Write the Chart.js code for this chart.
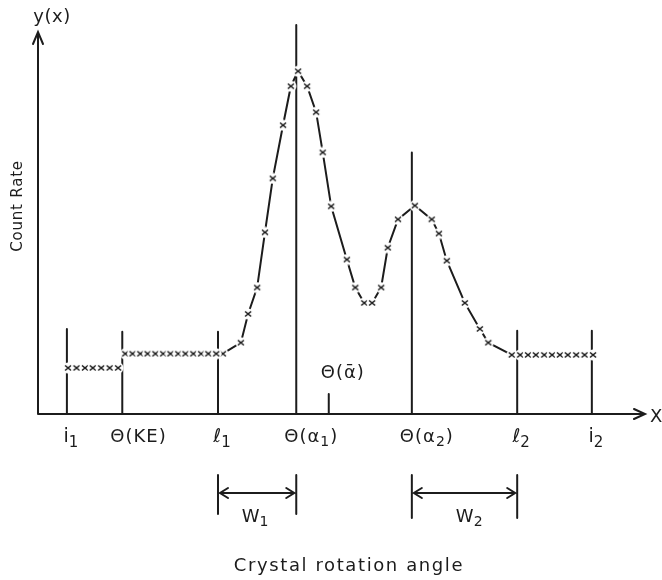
<!DOCTYPE html>
<html>
<head>
<meta charset="utf-8">
<script src="https://cdn.jsdelivr.net/npm/chart.js@4.4.1/dist/chart.umd.min.js"></script>
<style>
  html, body { margin: 0; padding: 0; background: #fff; }
  #wrap { width: 662px; height: 580px; position: relative; }
</style>
</head>
<body>
<div id="wrap"><canvas id="rocking"></canvas></div>
<script>
// marker positions along the rotation axis (arbitrary units 0..100)
const markerLabels = ['i₁', 'Θ(KE)', 'ℓ₁', 'Θ(α₁)', 'Θ(α₂)', 'ℓ₂', 'i₂'];
const markerX = [4.8, 14.0, 29.9, 42.9, 62.1, 79.6, 92.0];
const markerTop = [21.6, 20.9, 20.9, 98.7, 66.4, 21.1, 21.1];
const meanLabel = 'Θ(ᾱ)';
const meanX = 48.3;
const meanTop = 5.1;

// background counts left of the peaks (two plateaus)
const bgLowX = [5.0, 6.4, 7.8, 9.1, 10.5, 11.9, 13.3];
const bgLowLevel = 11.7;
const bgHighX = [14.5, 15.7, 17.0, 18.2, 19.5, 20.8, 22.0, 23.3, 24.5, 25.8, 27.1, 28.3, 29.6];
const bgHighLevel = 15.3;

// measured profile through both reflections
const peakX = [30.7, 33.7, 34.9, 36.4, 37.7, 39.0, 40.7, 42.0, 43.2, 44.7, 46.2, 47.3, 48.7,
               51.3, 52.7, 54.2, 55.5, 57.0, 58.1, 59.8, 62.6, 65.4, 66.6, 67.9, 70.9, 73.4, 74.8, 78.7];
const peakY = [15.3, 18.1, 25.4, 32.1, 46.1, 59.8, 73.3, 83.2, 87.0, 83.2, 76.6, 66.4, 52.7,
               39.2, 32.1, 28.2, 28.2, 32.1, 42.2, 49.4, 52.9, 49.4, 45.8, 38.9, 28.2, 21.6, 18.1, 15.0];

// background right of the peaks
const bgRightX = [80.1, 81.4, 82.7, 84.1, 85.4, 86.7, 88.0, 89.4, 90.8, 92.2];
const bgRightLevel = 15.0;

const ink = '#1c1c1c';
const fontName = "'DejaVu Sans', sans-serif";
const subDigits = { '₁': '1', '₂': '2' };

// little "x" with a white halo so the line breaks around each point
function makeCross() {
    const c = document.createElement('canvas');
    c.width = 12; c.height = 12;
    const g = c.getContext('2d');
    g.fillStyle = '#fff';
    g.beginPath(); g.arc(6, 6, 5.5, 0, Math.PI * 2); g.fill();
    g.strokeStyle = ink;
    g.lineWidth = 1.6;
    g.beginPath();
    g.moveTo(3, 3.5); g.lineTo(9, 8.5);
    g.moveTo(9, 3.5); g.lineTo(3, 8.5);
    g.stroke();
    return c;
}
const cross = makeCross();

function level(xs, y) {
    return xs.map(x => ({ x: x, y: y }));
}

// text with real (lowered, smaller) subscripts for ₁ ₂
function text(ctx, str, x, y, size, align, spacing) {
    ctx.save();
    ctx.textBaseline = 'middle';
    ctx.fillStyle = ink;
    ctx.letterSpacing = (spacing || 0) + 'px';
    const parts = [];
    let buf = '';
    for (const ch of str) {
        if (subDigits[ch]) {
            if (buf) parts.push({ s: buf, sub: false });
            parts.push({ s: subDigits[ch], sub: true });
            buf = '';
        } else buf += ch;
    }
    if (buf) parts.push({ s: buf, sub: false });
    const subSize = Math.round(size * 0.78);
    let w = 0;
    parts.forEach(p => {
        ctx.font = (p.sub ? subSize : size) + 'px ' + fontName;
        p.w = ctx.measureText(p.s).width;
        w += p.w;
    });
    let cx = align === 'left' ? x : align === 'right' ? x - w : x - w / 2;
    ctx.textAlign = 'left';
    parts.forEach(p => {
        ctx.font = (p.sub ? subSize : size) + 'px ' + fontName;
        ctx.fillText(p.s, cx, p.sub ? y + size * 0.32 : y);
        cx += p.w;
    });
    ctx.restore();
}

const sketch = {
    id: 'sketch',
    beforeDatasetsDraw(chart) {
        const { ctx, chartArea: area, scales: { x, y } } = chart;
        const y0 = y.getPixelForValue(0);
        const x0 = x.getPixelForValue(0);
        ctx.save();
        ctx.strokeStyle = ink;
        ctx.lineWidth = 2;
        ctx.lineCap = 'round';

        // axes with open arrow heads
        const yTip = area.top + 12;
        const xTip = area.right + 5;
        ctx.beginPath();
        ctx.moveTo(x0, y0); ctx.lineTo(x0, yTip);
        ctx.moveTo(x0 - 5, yTip + 12); ctx.lineTo(x0, yTip); ctx.lineTo(x0 + 5, yTip + 12);
        ctx.moveTo(x0, y0); ctx.lineTo(xTip, y0);
        ctx.moveTo(xTip - 11, y0 - 5); ctx.lineTo(xTip, y0); ctx.lineTo(xTip - 11, y0 + 5);
        ctx.stroke();

        // vertical markers
        ctx.lineWidth = 2;
        ctx.beginPath();
        markerX.forEach((mx, i) => {
            const px = x.getPixelForValue(mx);
            ctx.moveTo(px, y0);
            ctx.lineTo(px, y.getPixelForValue(markerTop[i]));
        });
        const mp = x.getPixelForValue(meanX);
        ctx.moveTo(mp, y0);
        ctx.lineTo(mp, y.getPixelForValue(meanTop));
        ctx.stroke();
        ctx.restore();
    },
    afterDraw(chart) {
        const { ctx, chartArea: area, scales: { x, y } } = chart;
        const y0 = y.getPixelForValue(0);
        const x0 = x.getPixelForValue(0);

        // marker labels under the axis
        markerLabels.forEach((lab, i) => {
            const px = x.getPixelForValue(markerX[i]);
            if (lab.startsWith('Θ')) text(ctx, lab, px - 12, y0 + 23, 18, 'left', 1);
            else text(ctx, lab, px + 4, y0 + 23, 19, 'center', 0);
        });
        text(ctx, meanLabel, x.getPixelForValue(meanX) - 8, y.getPixelForValue(meanTop) - 21, 18, 'left', 1);

        // axis titles
        text(ctx, 'y(x)', x0 + 14, area.top - 3, 18, 'center', 0.5);
        text(ctx, 'X', area.right + 10, y0 + 3, 18, 'left', 0);
        text(ctx, 'Crystal rotation angle', (area.left + area.right) / 2 + 10, y0 + 152, 18, 'center', 1.6);
        ctx.save();
        ctx.translate(18, y0 - 208);
        ctx.rotate(-Math.PI / 2);
        text(ctx, 'Count Rate', 0, 0, 15, 'center', 0.8);
        ctx.restore();

        // peak widths W1, W2
        const spans = [[2, 3, 'W₁'], [4, 5, 'W₂']];
        ctx.save();
        ctx.strokeStyle = ink;
        ctx.lineWidth = 2;
        ctx.lineCap = 'round';
        spans.forEach(([a, b, lab], k) => {
            const pa = x.getPixelForValue(markerX[a]);
            const pb = x.getPixelForValue(markerX[b]);
            const ay = y0 + 79;
            ctx.beginPath();
            ctx.moveTo(pa, y0 + 61); ctx.lineTo(pa, y0 + 100 + k * 4);
            ctx.moveTo(pb, y0 + 61); ctx.lineTo(pb, y0 + 100 + k * 4);
            ctx.moveTo(pa + 2, ay); ctx.lineTo(pb - 2, ay);
            ctx.moveTo(pa + 10, ay - 5); ctx.lineTo(pa + 2, ay); ctx.lineTo(pa + 10, ay + 5);
            ctx.moveTo(pb - 10, ay - 5); ctx.lineTo(pb - 2, ay); ctx.lineTo(pb - 10, ay + 5);
            ctx.stroke();
            const lx = k === 0 ? (pa + pb) / 2 - 2 : pb - 48;
            text(ctx, lab, lx, y0 + 103, 18, 'center', 0);
        });
        ctx.restore();
    }
};

const pointStyleOpts = {
    showLine: false,
    pointStyle: cross,
    pointRadius: 6,
    pointHoverRadius: 6
};

new Chart(document.getElementById('rocking'), {
    type: 'scatter',
    data: {
        datasets: [
            Object.assign({ label: 'bg low', data: level(bgLowX, bgLowLevel) }, pointStyleOpts),
            Object.assign({ label: 'bg high', data: level(bgHighX, bgHighLevel) }, pointStyleOpts),
            Object.assign({ label: 'bg right', data: level(bgRightX, bgRightLevel) }, pointStyleOpts),
            Object.assign({}, pointStyleOpts, {
                label: 'profile',
                data: peakX.map((px, i) => ({ x: px, y: peakY[i] })),
                showLine: true,
                borderColor: ink,
                borderWidth: 2,
                tension: 0
            })
        ]
    },
    options: {
        responsive: true,
        maintainAspectRatio: false,
        animation: false,
        layout: { padding: { left: 38, right: 22, top: 20, bottom: 166 } },
        scales: {
            x: { type: 'linear', min: 0, max: 100, display: false },
            y: { type: 'linear', min: 0, max: 100, display: false }
        },
        plugins: {
            legend: { display: false },
            tooltip: { enabled: false }
        },
        clip: false
    },
    plugins: [sketch]
});
</script>
</body>
</html>
